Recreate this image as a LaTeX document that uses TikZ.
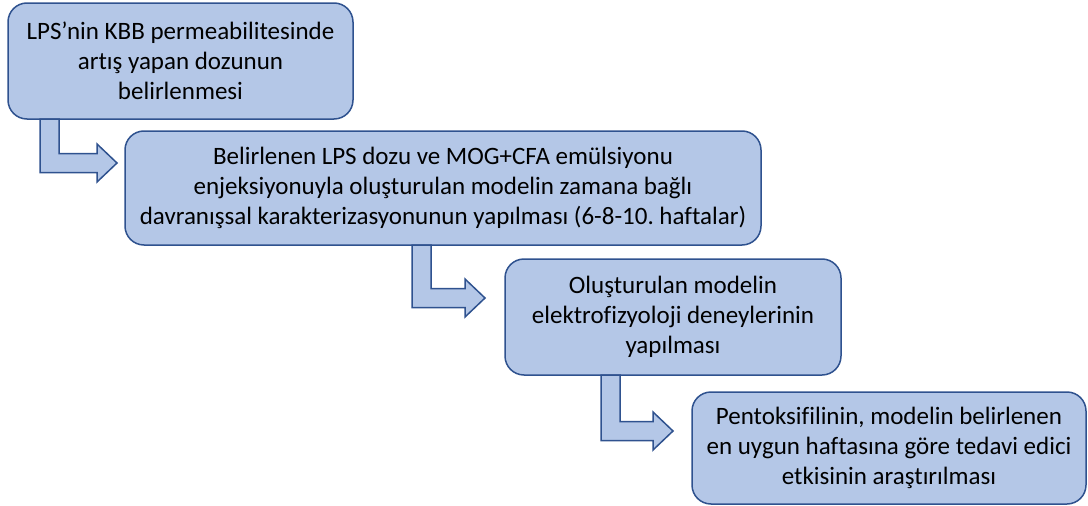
\documentclass[tikz,border=0pt]{standalone}
\usepackage{fontspec}
\setmainfont{Carlito}[Ligatures=NoCommon]
\frenchspacing
\usetikzlibrary{positioning,calc}
\definecolor{boxfill}{RGB}{180,199,231}
\definecolor{boxline}{RGB}{47,82,143}
\tikzset{
  stage/.style={draw=boxline,line width=1.5pt,rounded corners=19pt,fill=boxfill,
    align=center,font=\fontsize{25pt}{30pt}\selectfont,inner sep=0pt,outer sep=0pt},
  barr/.style={draw=boxline,line width=1.5pt,fill=boxfill,line join=miter},
}
\begin{document}
\begin{tikzpicture}
\useasboundingbox (0,0) rectangle (1088pt,-506pt);
\node[stage,anchor=north west,minimum width=345pt,minimum height=116pt] (b1) at (8pt,-3pt){LPS’nin KBB permeabilitesinde\\artış yapan dozunun\\belirlenmesi};
\node[stage,minimum width=636pt,minimum height=114pt,below right=12pt and 117pt of b1.south west] (b2){Belirlenen LPS dozu ve MOG+CFA emülsiyonu\\enjeksiyonuyla oluşturulan modelin zamana bağlı\\davranışsal karakterizasyonunun yapılması (6-8-10. haftalar)};
\node[stage,minimum width=336pt,minimum height=116pt,below right=14pt and 380pt of b2.south west] (b3){Oluşturulan modelin\\elektrofizyoloji deneylerinin\\yapılması};
\node[stage,minimum width=394pt,minimum height=112pt,below right=17pt and 187pt of b3.south west] (b4){Pentoksifilinin, modelin belirlenen\\en uygun haftasına göre tedavi edici\\etkisinin araştırılması};
% bent arrows between the stages
\coordinate (s1) at ($(b1.south west)+(32pt,0)$); \coordinate (t1) at ($(b2.north west)+(-8pt,-32pt)$);
\coordinate (s2) at ($(b2.south west)+(287pt,0)$); \coordinate (t2) at ($(b3.north west)+(-20pt,-39pt)$);
\coordinate (s3) at ($(b3.south west)+(96pt,0)$); \coordinate (t3) at ($(b4.north west)+(-19pt,-39pt)$);
\foreach \i in {1,2,3}{
  \draw[barr](s\i)--++(19pt,0)|-($(t\i)+(-20pt,9.5pt)$)--++(0,9.5pt)--(t\i)--++(-20pt,-19pt)--++(0,9.5pt)-|(s\i)--cycle;
}
\end{tikzpicture}
\end{document}
